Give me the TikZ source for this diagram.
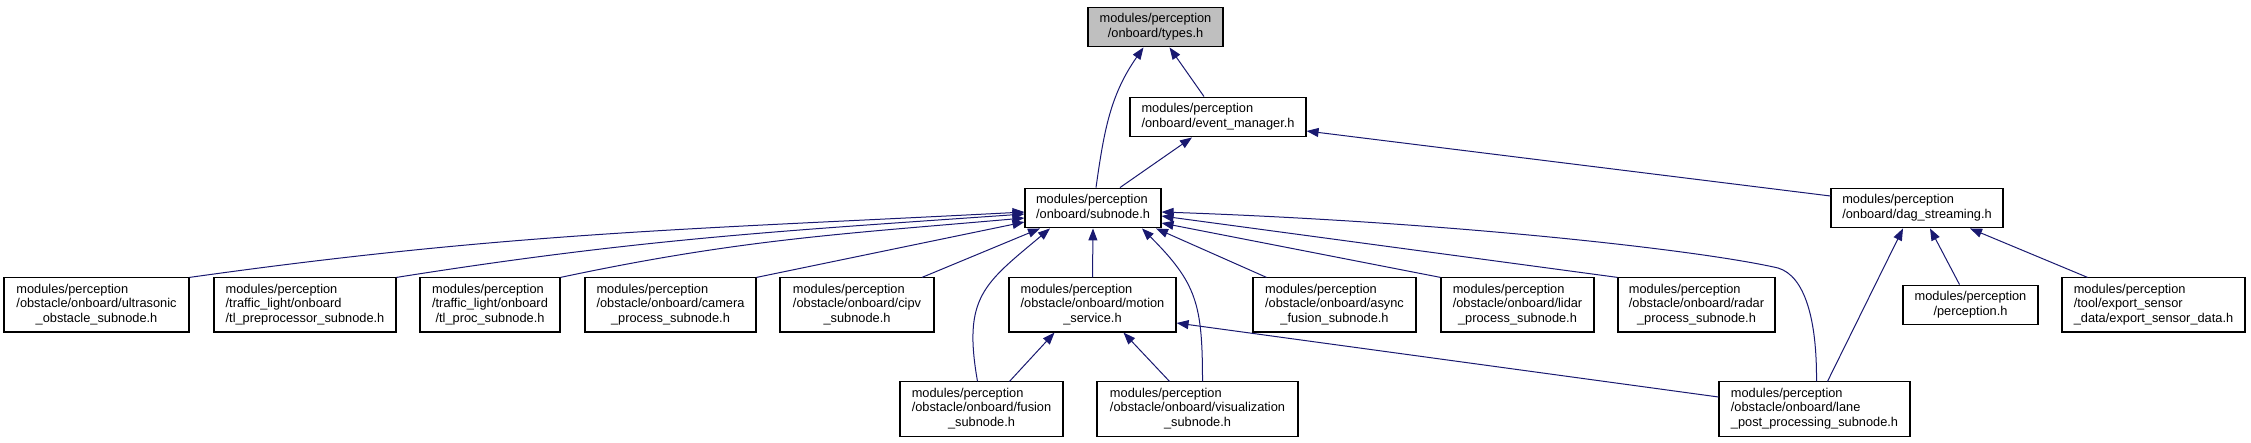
\documentclass[tikz,border=0pt]{standalone}
\usepackage{fontspec}
\setmainfont{Liberation Sans}
\definecolor{edgeblue}{RGB}{25, 25, 112}
\definecolor{typesgray}{RGB}{191, 191, 191}
\usetikzlibrary{arrows.meta}

\newcommand{\twoline}[2]{\begin{tabular}{@{}l@{}}#1\\\multicolumn{1}{@{}c@{}}{#2}\end{tabular}}
\newcommand{\threeline}[3]{\begin{tabular}{@{}l@{}}#1\\#2\\\multicolumn{1}{@{}c@{}}{#3}\end{tabular}}

\begin{document}
\begin{tikzpicture}[x=1pt, y=-1pt,
  box/.style={draw=black, line width=1.1pt, fill=white, inner xsep=10pt, inner ysep=5.6pt,
    font=\fontsize{12.8}{14.3}\selectfont},
  edge/.style={draw=edgeblue, line width=1pt, -{Triangle[length=12pt, width=9pt]}}]
  \useasboundingbox (0,0) rectangle (2251,443);

  % headers, top to bottom
  \node[box, fill=typesgray, minimum width=135pt] (types) at (1155.5,27) {\twoline{modules/perception}{/onboard/types.h}};
  \node[box, minimum width=176pt] (evmgr) at (1218,117) {\twoline{modules/perception}{/onboard/event\_manager.h}};
  \node[box, minimum width=136pt] (subnode) at (1093,208) {\twoline{modules/perception}{/onboard/subnode.h}};
  \node[box, minimum width=172pt] (dag) at (1917,208) {\twoline{modules/perception}{/onboard/dag\_streaming.h}};

  \node[box, minimum width=185pt] (ultra) at (96.5,305) {\threeline{modules/perception}{/obstacle/onboard/ultrasonic}{\_obstacle\_subnode.h}};
  \node[box, minimum width=182pt] (tlpre) at (305,305) {\threeline{modules/perception}{/traffic\_light/onboard}{/tl\_preprocessor\_subnode.h}};
  \node[box, minimum width=140pt] (tlproc) at (490,305) {\threeline{modules/perception}{/traffic\_light/onboard}{/tl\_proc\_subnode.h}};
  \node[box, minimum width=171pt] (camera) at (670.5,305) {\threeline{modules/perception}{/obstacle/onboard/camera}{\_process\_subnode.h}};
  \node[box, minimum width=154pt] (cipv) at (857,305) {\threeline{modules/perception}{/obstacle/onboard/cipv}{\_subnode.h}};
  \node[box, minimum width=167pt] (motion) at (1092.5,305) {\threeline{modules/perception}{/obstacle/onboard/motion}{\_service.h}};
  \node[box, minimum width=163pt] (async) at (1334.5,305) {\threeline{modules/perception}{/obstacle/onboard/async}{\_fusion\_subnode.h}};
  \node[box, minimum width=153pt] (lidar) at (1517.5,305) {\threeline{modules/perception}{/obstacle/onboard/lidar}{\_process\_subnode.h}};
  \node[box, minimum width=157pt] (radar) at (1696.5,305) {\threeline{modules/perception}{/obstacle/onboard/radar}{\_process\_subnode.h}};
  \node[box, minimum width=135pt] (percep) at (1970.5,305) {\twoline{modules/perception}{/perception.h}};
  \node[box, minimum width=183pt] (export) at (2153.5,305) {\threeline{modules/perception}{/tool/export\_sensor}{\_data/export\_sensor\_data.h}};

  \node[box, minimum width=163pt] (fusion) at (981.5,409) {\threeline{modules/perception}{/obstacle/onboard/fusion}{\_subnode.h}};
  \node[box, minimum width=201pt] (visual) at (1197.5,409) {\threeline{modules/perception}{/obstacle/onboard/visualization}{\_subnode.h}};
  \node[box, minimum width=191pt] (lane) at (1814.5,409) {\threeline{modules/perception}{/obstacle/onboard/lane}{\_post\_processing\_subnode.h}};

  \coordinate (lanebend) at (1778,268);

  % into types.h and event_manager.h
  \draw[edge] ([xshift=3pt]subnode.north) to[out=82, in=235] ([xshift=-12pt]types.south);
  \draw[edge] ([xshift=-14pt]evmgr.north) -- ([xshift=14pt]types.south);
  \draw[edge] ([xshift=27pt]subnode.north) -- ([xshift=-26pt]evmgr.south);
  \draw[edge] ([yshift=12pt]dag.west) -- ([yshift=-14pt]evmgr.east);

  % into subnode.h
  \draw[edge] (ultra.north east) to[out=8, in=183] ([yshift=-4pt]subnode.west);
  \draw[edge] (tlpre.north east) to[out=9, in=184] ([yshift=-6pt]subnode.west);
  \draw[edge] (tlproc.north east) to[out=12, in=185] ([yshift=-10pt]subnode.west);
  \draw[edge] (camera.north east) -- ([yshift=-14pt]subnode.west);
  \draw[edge] ([xshift=65pt]cipv.north) -- ([xshift=-53pt]subnode.south);
  \draw[edge] ([xshift=-4pt]fusion.north) to[out=100, in=220, looseness=1.3] ([xshift=-43pt]subnode.south);
  \draw[edge] (motion.north) -- (subnode.south);
  \draw[edge] ([xshift=5pt]visual.north) to[out=90, in=-45, looseness=1.2] ([xshift=49pt]subnode.south);
  \draw[edge] ([xshift=-68pt]async.north) -- ([xshift=63pt]subnode.south);
  \draw[edge] (lidar.north west) -- ([yshift=-15pt]subnode.east);
  \draw[edge] (radar.north west) -- ([yshift=-8pt]subnode.east);
  \draw[edge] ([xshift=2pt]lane.north) .. controls (1817,320) and (1805,276) .. (lanebend)
    .. controls (1700,250) and (1450,222) .. ([yshift=-4pt]subnode.east);

  % into motion_service.h
  \draw[edge] ([xshift=28pt]fusion.north) -- ([xshift=-38pt]motion.south);
  \draw[edge] ([xshift=-28pt]visual.north) -- ([xshift=31pt]motion.south);
  \draw[edge] ([yshift=12pt]lane.west) -- ([yshift=-18pt]motion.east);

  % into dag_streaming.h
  \draw[edge] ([xshift=13pt]lane.north) -- ([xshift=-14pt]dag.south);
  \draw[edge] ([xshift=-11pt]percep.north) -- ([xshift=13pt]dag.south);
  \draw[edge] ([xshift=-66pt]export.north) -- ([xshift=53pt]dag.south);
\end{tikzpicture}
\end{document}
